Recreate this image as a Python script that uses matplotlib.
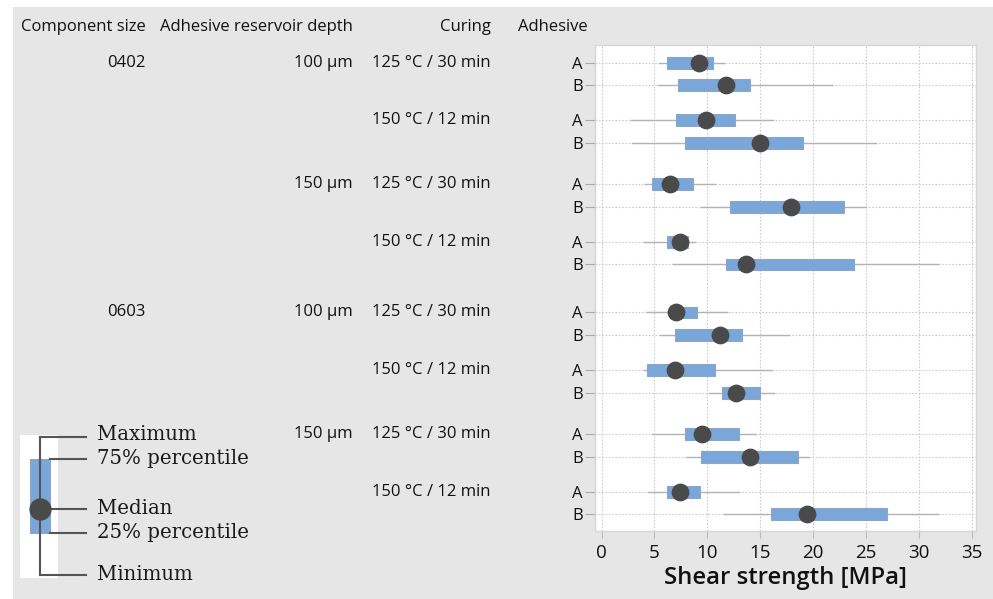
import numpy as np
import matplotlib.pyplot as plt
import matplotlib.transforms as mtransforms
from matplotlib.patches import Rectangle

# grouping of the rows (size -> depth -> curing -> adhesive)
sizes = ['0402', '0603']
depths = ['100 µm', '150 µm']
curings = ['125 °C / 30 min', '150 °C / 12 min']
adhesives = ['A', 'B']

# shear strength statistics [MPa], one value per row in the order above
minimum = [5.4, 5.3, 2.8, 2.9, 4.1, 9.4, 4.0, 6.8,
           4.3, 5.5, 4.0, 10.2, 4.8, 8.0, 4.4, 11.6]
q25 = [6.2, 7.2, 7.0, 7.9, 4.8, 12.1, 6.2, 11.8,
       6.5, 6.9, 4.3, 11.4, 7.9, 9.4, 6.2, 16.0]
median = [9.25, 11.8, 9.9, 15.0, 6.5, 17.9, 7.4, 13.7,
          7.0, 11.2, 6.9, 12.7, 9.5, 14.0, 7.4, 19.4]
q75 = [10.5, 14.0, 12.6, 19.0, 8.6, 22.9, 8.2, 23.9,
       9.0, 13.3, 10.7, 15.0, 13.0, 18.6, 9.3, 27.0]
maximum = [11.6, 21.8, 16.2, 25.9, 10.7, 25.0, 8.8, 31.8,
           11.9, 17.7, 16.1, 16.3, 14.6, 19.6, 13.0, 31.8]

xticks = [0, 5, 10, 15, 20, 25, 30, 35]

SANS = ['Open Sans', 'DejaVu Sans']
BG = '#e6e6e6'
BOX = '#7ba6da'
TXT = '#111111'

# row positions: extra space between curing / depth / size groups
ypos = []
first_of = []  # (row y, size label or None, depth label or None, curing label)
y = 0.0
prev = None
for s in sizes:
    for d in depths:
        for c in curings:
            for k, a in enumerate(adhesives):
                if prev is not None:
                    if k == 1:
                        y += 1.0
                    elif prev[0] != s:
                        y += 2.12
                    elif prev[1] != d:
                        y += 1.83
                    else:
                        y += 1.55
                ypos.append(y)
                if k == 0:
                    lab_s = s if (prev is None or prev[0] != s) else None
                    lab_d = d if (prev is None or prev[1] != d or prev[0] != s) else None
                    first_of.append((y, lab_s, lab_d, c))
                prev = (s, d, c)
ypos = np.array(ypos)
labels = adhesives * (len(ypos) // 2)

fig = plt.figure(figsize=(9.93, 5.99), dpi=100)
fig.patch.set_facecolor('white')

# background overlay in pixel coordinates
bg = fig.add_axes([0, 0, 1, 1], zorder=-1)
bg.set_xlim(0, 993)
bg.set_ylim(599, 0)
bg.axis('off')
bg.add_patch(Rectangle((13, 7), 993 - 13, 599 - 7, facecolor=BG, edgecolor='none'))

ax = fig.add_axes([595 / 993, 1 - 531 / 599, (976 - 595) / 993, (531 - 45) / 599])
ax.set_facecolor('white')

for i, yy in enumerate(ypos):
    ax.plot([minimum[i], maximum[i]], [yy, yy], color='#b4b4b4', lw=1.0, zorder=2)
    ax.add_patch(Rectangle((q25[i], yy - 0.26), q75[i] - q25[i], 0.52,
                           facecolor=BOX, edgecolor='#8ca6c4', lw=0.8, zorder=3))
ax.plot(median, ypos, 'o', color='#4a4a4a', ms=11.8, zorder=4)

ax.set_xlim(-0.62, 35.4)
ax.set_ylim(ypos[-1] + 0.74, -0.78)
ax.set_xticks(xticks)
ax.set_yticks(ypos)
ax.set_yticklabels(labels)
ax.grid(True, color='#cccccc', lw=0.8, linestyle=(0, (1.5, 1.5)))
ax.set_axisbelow(True)
for sp in ax.spines.values():
    sp.set_color('#d6d6d6')
    sp.set_linewidth(1.0)
ax.tick_params(axis='y', length=7, width=0.8, color='#aaaaaa', pad=2,
               labelsize=12, labelcolor=TXT)
ax.tick_params(axis='x', length=5, width=0.8, color='#bbbbbb', pad=4,
               labelsize=13.5, labelcolor=TXT)
for t in ax.get_xticklabels() + ax.get_yticklabels():
    t.set_family(SANS)
ax.set_xlabel('Shear strength [MPa]', fontsize=17.2, family=SANS,
              fontweight='semibold', color=TXT, labelpad=3)

# left-hand label columns: x in figure pixels, y in data rows
tr = mtransforms.blended_transform_factory(fig.dpi_scale_trans, ax.transData)
col_x = [146, 353, 491]
for yy, s, d, c in first_of:
    for x, txt in zip(col_x, [s, d, c]):
        if txt:
            ax.text(x / 100, yy, txt, transform=tr, ha='right', va='center',
                    fontsize=12, family=SANS, color=TXT, clip_on=False)

headers = ['Component size', 'Adhesive reservoir depth', 'Curing', 'Adhesive']
for x, h in zip(col_x + [588], headers):
    bg.text(x, 27, h, ha='right', va='center', fontsize=12, family=SANS,
            color=TXT)

# explanation of the box symbol
bg.add_patch(Rectangle((20, 435), 38, 143, facecolor='white', edgecolor='none'))
lc = '#555555'
bg.plot([40, 40], [437, 575], color=lc, lw=1.5)
for yy, x0 in [(437, 40), (459, 50), (509, 40), (533, 50), (575, 40)]:
    bg.plot([x0, 86], [yy, yy], color=lc, lw=1.5)
bg.add_patch(Rectangle((30, 459), 20, 74, facecolor=BOX, edgecolor='#8ca6c4', lw=0.8))
bg.plot([40], [509], 'o', color='#4a4a4a', ms=15)
for yy, txt in [(435, 'Maximum'), (459, '75% percentile'), (508, 'Median'),
                (532, '25% percentile'), (574, 'Minimum')]:
    bg.text(97, yy, txt, ha='left', va='center', fontsize=14.2,
            family=['DejaVu Serif'], color='#1a1a1a')

fig.savefig('out.png', dpi=100)
